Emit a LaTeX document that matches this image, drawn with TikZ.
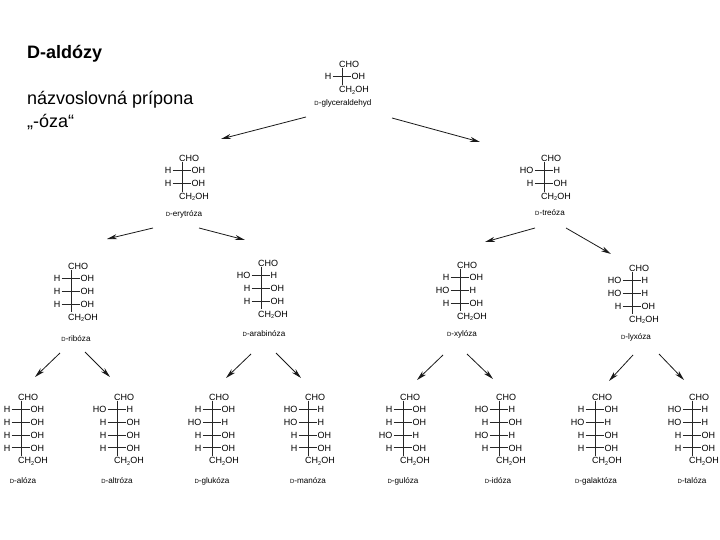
\documentclass[tikz,border=0pt]{standalone}
\usepackage{fontspec}
\setmainfont{Liberation Sans}
\usetikzlibrary{arrows.meta}
\tikzset{
	atom/.style={inner sep=1pt, text height=6.5pt, text depth=0pt, font=\fontsize{9}{9}\selectfont},
	sugarname/.style={inner sep=1pt, anchor=base, font=\fontsize{8.1}{8}\selectfont},
	heading/.style={anchor=base west, inner sep=0pt, font=\fontsize{18}{18}\selectfont},
	bond/.style={draw=black!85, line width=0.7pt},
	reaction/.style={-{Stealth[length=10pt,width=5pt,inset=3pt]}, draw=black!90, line width=0.8pt},
}
% 1 nom, 2 x, 3 y du CHO, 4 lignes (0: H|OH, 1: HO|H), 5 x, 6 y du nom, 7 texte
\newcommand{\fischer}[7]{
	\node[atom, anchor=west] (#1-top) at (#2-4,#3) {CHO};
	\foreach \s [count=\i] in {#4}{
		\pgfmathsetmacro{\ry}{#3+\i*12.7}
		\ifnum\s=0
			\node[atom, anchor=east] (#1-l\i) at (#2-9.5,\ry) {H};
			\node[atom, anchor=west] (#1-r\i) at (#2+8.5,\ry) {OH};
		\else
			\node[atom, anchor=east] (#1-l\i) at (#2-9.5,\ry) {HO};
			\node[atom, anchor=west] (#1-r\i) at (#2+8.5,\ry) {H};
		\fi
		\draw[bond] (#1-l\i.east) -- (#1-r\i.west);
		\xdef\lastrow{\i}
	}
	\pgfmathsetmacro{\by}{#3+(\lastrow+1)*12.7}
	\node[atom, anchor=west] (#1-bot) at (#2-4,\by) {CH\raisebox{-1.5pt}{\fontsize{5.5}{6}\selectfont 2}OH};
	\coordinate (#1-axis) at (#2,#3);
	\draw[bond] (#1-top.south -| #1-axis) -- (#1-bot.north -| #1-axis);
	\node[sugarname] (#1-name) at (#5,#6+3) {{\fontsize{6}{6}\selectfont D}-#7};
}
\begin{document}
\begin{tikzpicture}[x=1pt, y=-1pt]
	\useasboundingbox (0,0) rectangle (720,540);
	% le titre
	\node[heading, font=\fontsize{18}{18}\selectfont\bfseries] (title) at (27,59) {D-aldózy};
	\node[heading] (suffix) at (27,105) {názvoslovná prípona};
	\node[heading] (ending) at (27,128) {„-óza“};
	% triose et tetroses
	\fischer{glyc}{342}{64}{0}{343}{103}{glyceraldehyd}
	\fischer{eryt}{182}{158}{0,0}{184}{213}{erytróza}
	\fischer{treo}{544}{158}{1,0}{550}{212}{treóza}
	% pentoses
	\fischer{ribo}{71}{266}{0,0,0}{76}{338}{ribóza}
	\fischer{arab}{261}{263}{1,0,0}{264}{333}{arabinóza}
	\fischer{xylo}{460}{265}{0,1,0}{462}{333}{xylóza}
	\fischer{lyxo}{632}{268}{1,1,0}{636}{336}{lyxóza}
	% hexoses
	\fischer{allo}{21}{397}{0,0,0,0}{23}{480}{alóza}
	\fischer{altr}{117}{397}{1,0,0,0}{117}{480}{altróza}
	\fischer{gluk}{212}{397}{0,1,0,0}{212}{480}{glukóza}
	\fischer{mano}{308}{397}{1,1,0,0}{308}{480}{manóza}
	\fischer{gulo}{403}{397}{0,0,1,0}{403}{480}{gulóza}
	\fischer{idoz}{499}{397}{1,0,1,0}{498}{480}{idóza}
	\fischer{gala}{595}{397}{0,1,0,0}{596}{480}{galaktóza}
	\fischer{talo}{692}{397}{1,1,0,0}{692}{480}{talóza}
	% les fleches
	\foreach \xa/\ya/\xb/\yb [count=\k] in {
		306/117/221/139, 392/118/480/142,
		153/228/107/239, 199/228/245/240, 535/228/485/242, 566/228/611/254,
		60/353/35/377, 85/352/110/377, 251/354/226/378, 276/353/301/378,
		443/355/417/380, 467/354/493/379, 633/355/609/381, 659/354/684/380}{
		\coordinate (from\k) at (\xa,\ya);
		\coordinate (to\k) at (\xb,\yb);
		\draw[reaction] (from\k) -- (to\k);
	}
\end{tikzpicture}
\end{document}
